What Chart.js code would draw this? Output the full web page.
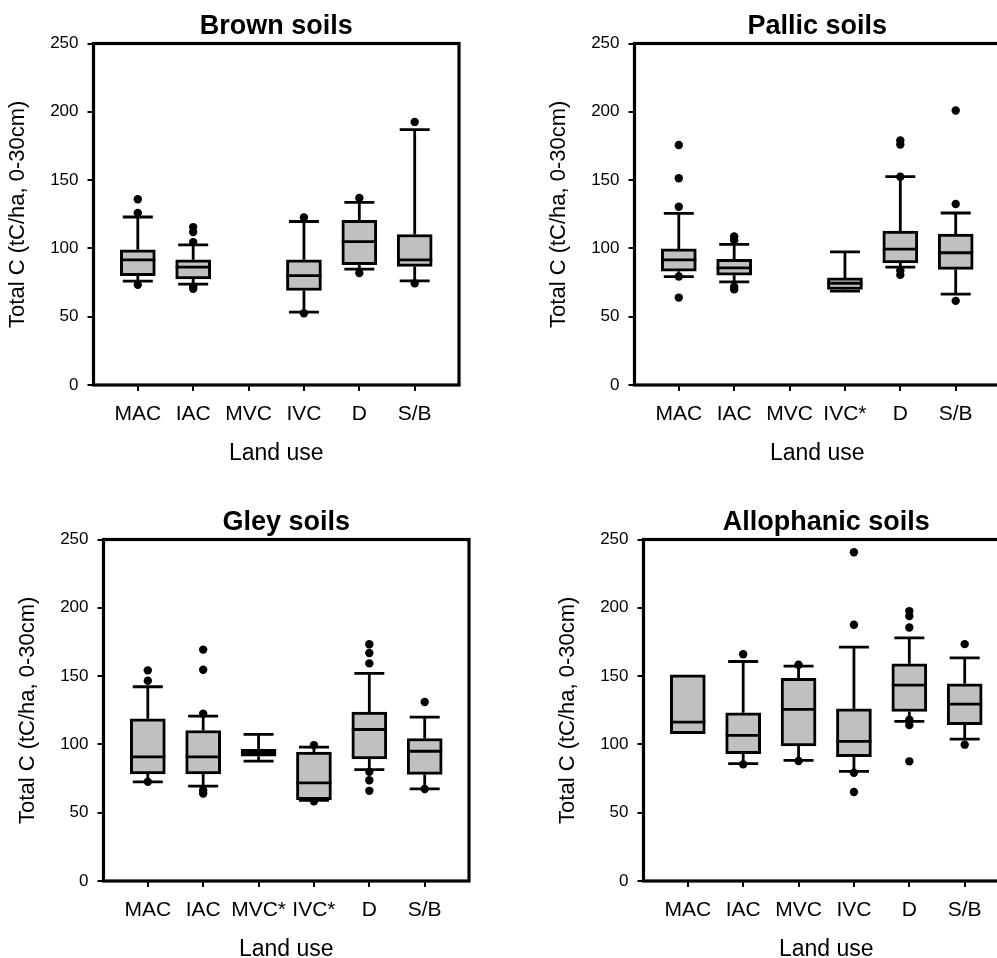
<!DOCTYPE html>
<html>
<head>
<meta charset="utf-8">
<script src="https://cdn.jsdelivr.net/npm/chart.js@4.4.1/dist/chart.umd.min.js"></script>
<style>
	html, body { margin: 0; padding: 0; background: #fff; overflow: hidden; width: 997px; height: 958px; }
	canvas { position: absolute; }
</style>
</head>
<body>
<canvas id="brown" width="470" height="470" style="left:0px;top:0px"></canvas>
<canvas id="pallic" width="470" height="470" style="left:541px;top:0px"></canvas>
<canvas id="gley" width="470" height="470" style="left:10px;top:496px"></canvas>
<canvas id="allo" width="470" height="470" style="left:550px;top:496px"></canvas>
<script>
// Brown soils
const BROWN_CATS = ['MAC', 'IAC', 'MVC', 'IVC', 'D', 'S/B'];
const BROWN_Q1 = [80, 77.7, null, 69.2, 88, 86.8];
const BROWN_MED = [91.6, 86.3, null, 80, 105, 91.6];
const BROWN_Q3 = [99, 91.6, null, 91.6, 120.5, 110.2];
const BROWN_LO = [76, 73.8, null, 53.3, 84.8, 76.2];
const BROWN_HI = [123, 102.6, null, 119.7, 133.7, 187];
const BROWN_OUT = [[136, 126, 73.3], [115.6, 112, 104.6, 72, 70.4], [], [122.7, 52.5], [136.9, 81.9], [192.6, 74.5]];

// Pallic soils
const PALLIC_CATS = ['MAC', 'IAC', 'MVC', 'IVC*', 'D', 'S/B'];
const PALLIC_Q1 = [83.3, 80.4, null, 69.9, 89.4, 84.6];
const PALLIC_MED = [91.6, 85.8, null, 74.5, 99.5, 96.8];
const PALLIC_Q3 = [99.6, 92, null, 78.4, 112.7, 110.5];
const PALLIC_LO = [79.4, 75.5, null, 68.7, 86.3, 66.5];
const PALLIC_HI = [125.6, 103, null, 97.5, 152.5, 125.9];
const PALLIC_OUT = [[175.7, 151.3, 130.5, 79.4, 64], [108.7, 106, 72, 70], [], [], [179, 176, 152.5, 83.8, 80.6], [200.9, 132.5, 61.6]];

// Gley soils
const GLEY_CATS = ['MAC', 'IAC', 'MVC*', 'IVC*', 'D', 'S/B'];
const GLEY_Q1 = [78.4, 78.4, 91.4, 59.6, 89.4, 78];
const GLEY_MED = [90.9, 90.9, 93.8, 71.8, 110.9, 95];
const GLEY_Q3 = [118.8, 110.2, 96.3, 94.3, 123.7, 104.3];
const GLEY_LO = [72.6, 69.4, 87.7, 59, 81.6, 67.4];
const GLEY_HI = [142.2, 120.7, 107.3, 98, 152, 120];
const GLEY_OUT = [[154.2, 146.6, 72.6], [169.4, 154.7, 122.4, 66.5, 64], [], [99.5, 58.4], [173.3, 166.9, 159.3, 79.9, 73.8, 66], [131, 67.4]];

// Allophanic soils
const ALLO_CATS = ['MAC', 'IAC', 'MVC', 'IVC', 'D', 'S/B'];
const ALLO_Q1 = [107.8, 93.2, 98.8, 91, 124.1, 114.4];
const ALLO_MED = [116.3, 106.6, 125.6, 102.2, 143.4, 129.5];
const ALLO_Q3 = [151, 123.2, 148.3, 126.1, 159, 144.4];
const ALLO_LO = [null, 85.9, 88.3, 80.2, 116.8, 103.9];
const ALLO_HI = [null, 160.7, 157.3, 171.2, 178, 163.4];
const ALLO_OUT = [[], [166, 85.4], [158.3, 87.8], [240.7, 187.6, 79.3, 65.1], [197.6, 193.9, 185.6, 118, 114.1, 87.6], [173.4, 99.8]];

const Y_TICKS = [0, 50, 100, 150, 200, 250];

const FONT = 'Arial, "Liberation Sans", sans-serif';
const BOX_FILL = '#c0c0c0';
const CAP_HALF = 15;

Chart.defaults.font.family = FONT;
Chart.defaults.color = '#000';

// whiskers, caps, medians and the frame, placed with the chart's scales
const boxPlugin = (med, q1, q3, lo, hi) => ({
	id: 'boxes',
	beforeDatasetsDraw(chart) {
		const { ctx, scales: { x, y } } = chart;
		ctx.save();
		ctx.strokeStyle = '#000';
		ctx.lineWidth = 2.8;
		med.forEach((m, i) => {
			if (m == null) return;
			const px = x.getPixelForValue(i + 1);
			[[lo[i], q1[i]], [hi[i], q3[i]]].forEach(([end, edge]) => {
				if (end == null) return;
				const pe = y.getPixelForValue(end);
				ctx.beginPath();
				ctx.moveTo(px, y.getPixelForValue(edge));
				ctx.lineTo(px, pe);
				ctx.moveTo(px - CAP_HALF, pe);
				ctx.lineTo(px + CAP_HALF, pe);
				ctx.stroke();
			});
		});
		ctx.restore();
	},
	afterDatasetsDraw(chart) {
		const { ctx, chartArea: a, scales: { x, y } } = chart;
		const half = chart.getDatasetMeta(0).data[0]?.width / 2 || 17;
		ctx.save();
		ctx.strokeStyle = '#000';
		ctx.lineWidth = 2.8;
		med.forEach((m, i) => {
			if (m == null) return;
			const px = x.getPixelForValue(i + 1);
			const py = y.getPixelForValue(m);
			ctx.beginPath();
			ctx.moveTo(px - half, py);
			ctx.lineTo(px + half, py);
			ctx.stroke();
		});
		ctx.lineWidth = 3.2;
		ctx.strokeRect(a.left, a.top, a.right - a.left, a.bottom - a.top);
		ctx.restore();
	},
});

const makePanel = (id, title, cats, q1, med, q3, lo, hi, out) => {
	const boxes = [];
	const points = [];
	cats.forEach((_, i) => {
		if (q1[i] != null) boxes.push({ x: i + 1, y: [q1[i], q3[i]] });
		out[i].forEach((v) => points.push({ x: i + 1, y: v }));
	});

	new Chart(document.getElementById(id), {
		type: 'bar',
		data: {
			datasets: [
				{
					type: 'bar',
					data: boxes,
					backgroundColor: BOX_FILL,
					borderColor: '#000',
					borderWidth: 3,
					borderSkipped: false,
					barThickness: 35,
					order: 2,
				},
				{
					type: 'scatter',
					data: points,
					pointRadius: 4.2,
					pointBackgroundColor: '#000',
					pointBorderWidth: 0,
					order: 1,
				},
			],
		},
		options: {
			responsive: false,
			animation: false,
			devicePixelRatio: 1,
			events: [],
			layout: { padding: { top: 0, right: 11, bottom: 0, left: 0 } },
			plugins: {
				legend: { display: false },
				tooltip: { enabled: false },
				title: {
					display: true,
					text: title,
					fullSize: false,
					color: '#000',
					font: { size: 27, weight: 'bold', lineHeight: 1 },
					padding: { top: 13, bottom: 3.5 },
				},
			},
			scales: {
				x: {
					type: 'linear',
					min: 0.2,
					max: 6.8,
					offset: false,
					afterBuildTicks: (s) => { s.ticks = cats.map((_, i) => ({ value: i + 1 })); },
					afterFit: (s) => { s.height = 85; },
					ticks: {
						callback: (v, i) => cats[i],
						font: { size: 21 },
						color: '#000',
						padding: 11,
						maxRotation: 0,
						autoSkip: false,
					},
					grid: { display: true, offset: false, drawOnChartArea: false, drawTicks: true, tickLength: 6, color: '#000', lineWidth: 2 },
					border: { display: false },
					title: {
						display: true,
						text: 'Land use',
						color: '#000',
						font: { size: 23 },
						padding: { top: 0, bottom: 2.3 },
					},
				},
				y: {
					min: 0,
					max: 250,
					afterBuildTicks: (s) => { s.ticks = Y_TICKS.map((v) => ({ value: v })); },
					afterFit: (s) => { s.width = 93.5; },
					ticks: { font: { size: 17 }, color: '#000', padding: 9 },
					grid: { display: true, drawOnChartArea: false, drawTicks: true, tickLength: 6, color: '#000', lineWidth: 2 },
					border: { display: false },
					title: {
						display: true,
						text: 'Total C (tC/ha, 0-30cm)',
						color: '#000',
						font: { size: 22 },
						padding: { top: 4.8, bottom: 0 },
					},
				},
			},
		},
		plugins: [boxPlugin(med, q1, q3, lo, hi)],
	});
};

makePanel('brown', 'Brown soils', BROWN_CATS, BROWN_Q1, BROWN_MED, BROWN_Q3, BROWN_LO, BROWN_HI, BROWN_OUT);
makePanel('pallic', 'Pallic soils', PALLIC_CATS, PALLIC_Q1, PALLIC_MED, PALLIC_Q3, PALLIC_LO, PALLIC_HI, PALLIC_OUT);
makePanel('gley', 'Gley soils', GLEY_CATS, GLEY_Q1, GLEY_MED, GLEY_Q3, GLEY_LO, GLEY_HI, GLEY_OUT);
makePanel('allo', 'Allophanic soils', ALLO_CATS, ALLO_Q1, ALLO_MED, ALLO_Q3, ALLO_LO, ALLO_HI, ALLO_OUT);
</script>
</body>
</html>
